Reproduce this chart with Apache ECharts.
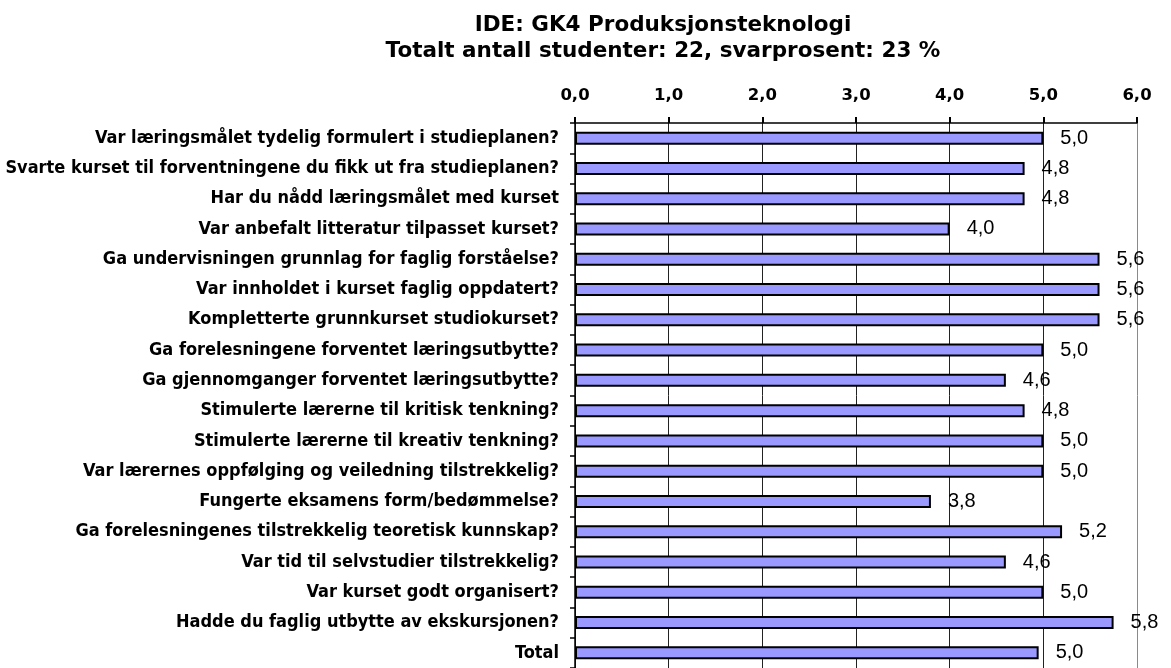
<!DOCTYPE html>
<html>
<head>
<meta charset="utf-8">
<script src="https://cdn.jsdelivr.net/npm/echarts@6/dist/echarts.min.js"></script>
<style>
  html, body { margin: 0; padding: 0; background: #fff; }
  #chart { width: 1171px; height: 668px; }
</style>
</head>
<body>
<div id="chart"></div>
<script>
// spørsmål (ovenfra og ned)
const categories = [
  'Var læringsmålet tydelig formulert i studieplanen?',
  'Svarte kurset til forventningene du fikk ut fra studieplanen?',
  'Har du nådd læringsmålet med kurset',
  'Var anbefalt litteratur tilpasset kurset?',
  'Ga undervisningen grunnlag for faglig forståelse?',
  'Var innholdet i kurset faglig oppdatert?',
  'Kompletterte grunnkurset studiokurset?',
  'Ga forelesningene forventet læringsutbytte?',
  'Ga gjennomganger forventet læringsutbytte?',
  'Stimulerte lærerne til kritisk tenkning?',
  'Stimulerte lærerne til kreativ tenkning?',
  'Var lærernes oppfølging og veiledning tilstrekkelig?',
  'Fungerte eksamens form/bedømmelse?',
  'Ga forelesningenes tilstrekkelig teoretisk kunnskap?',
  'Var tid til selvstudier tilstrekkelig?',
  'Var kurset godt organisert?',
  'Hadde du faglig utbytte av ekskursjonen?',
  'Total'
]
const values = [5.0, 4.8, 4.8, 4.0, 5.6, 5.6, 5.6, 5.0, 4.6, 4.8, 5.0, 5.0, 3.8, 5.2, 4.6, 5.0, 5.75, 4.95]
const tickLabels = ['0,0', '1,0', '2,0', '3,0', '4,0', '5,0', '6,0']

const chart = echarts.init(document.getElementById('chart'))

const fmt = v => v.toFixed(1).replace('.', ',')
const narrow = '"DejaVu Sans Condensed", "Liberation Sans Narrow", Arial, sans-serif'

const option = {
  animation: false,
  title: {
    text: 'IDE: GK4 Produksjonsteknologi\nTotalt antall studenter: 22, svarprosent: 23 %',
    left: 658,
    top: 7,
    textAlign: 'center',
    textStyle: {
      fontFamily: '"DejaVu Sans", sans-serif',
      fontSize: 21.5,
      fontWeight: 'bold',
      color: '#000',
      lineHeight: 26
    }
  },
  grid: {
    left: 575,
    right: 34,
    top: 123,
    height: 549
  },
  xAxis: {
    type: 'value',
    position: 'top',
    min: 0,
    max: 6,
    interval: 1,
    axisLine: { show: true, lineStyle: { color: '#000', width: 1.5 } },
    axisTick: { show: true, length: 6, lineStyle: { color: '#000', width: 2 } },
    axisLabel: {
      margin: 19,
      fontFamily: '"DejaVu Sans", sans-serif',
      fontSize: 16.5,
      fontWeight: 'bold',
      color: '#000',
      formatter: (v) => tickLabels[Math.round(v)]
    },
    splitLine: {
      show: true,
      lineStyle: { color: ['#222', '#222', '#222', '#222', '#222', '#222', '#8a8a8a'], width: 1 }
    }
  },
  yAxis: {
    type: 'category',
    inverse: true,
    data: categories,
    axisLine: { show: true, lineStyle: { color: '#000', width: 1.5 } },
    axisTick: { show: true, length: 5, lineStyle: { color: '#000', width: 1.5 } },
    axisLabel: {
      margin: 16,
      fontFamily: narrow,
      fontSize: 18,
      fontWeight: 'bold',
      color: '#000'
    }
  },
  series: [
    {
      type: 'bar',
      data: values,
      barWidth: 13,
      itemStyle: {
        color: '#9999ff',
        borderColor: '#000',
        borderWidth: 2
      },
      label: {
        show: true,
        position: 'right',
        distance: 17,
        fontFamily: 'Arial, "Liberation Sans", sans-serif',
        fontSize: 20,
        color: '#000',
        formatter: p => fmt(p.value)
      }
    }
  ]
}

chart.setOption(option)
window.addEventListener('resize', () => chart.resize())
</script>
</body>
</html>
